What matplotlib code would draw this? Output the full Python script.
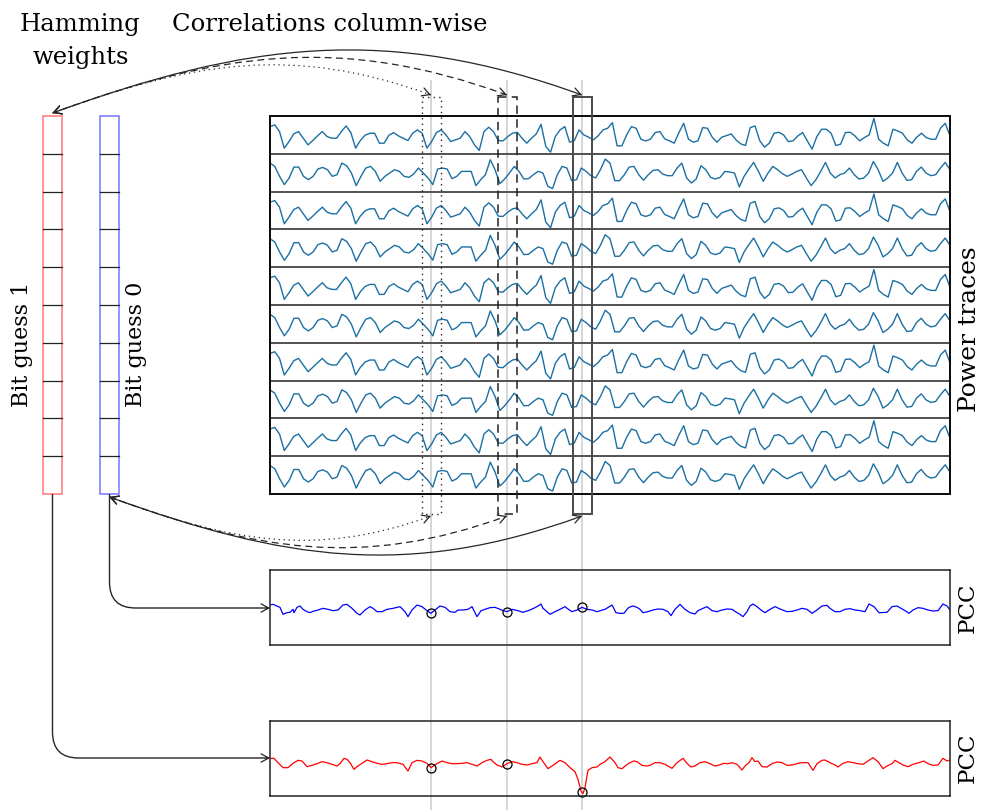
import numpy as np
import matplotlib.pyplot as plt
from matplotlib.patches import Rectangle, PathPatch
from matplotlib.path import Path

# ---------------- data ----------------
n_traces = 10

# power traces (arbitrary units), two recorded shapes that alternate row by row
trace_a = [80, 85, 65, 15, 35, 58, 65, 45, 25, 38, 52, 65, 50, 45, 45, 65, 82, 62, 15, 38,
           54, 60, 60, 30, 30, 54, 62, 52, 45, 38, 60, 70, 60, 15, 35, 62, 70, 55, 35, 40,
           45, 65, 50, 25, 8, 65, 78, 65, 38, 37, 50, 60, 63, 45, 30, 45, 58, 87, 20, 3,
           50, 70, 80, 33, 38, 70, 55, 48, 40, 52, 70,
           75, 92, 22, 22, 55, 80, 75, 42, 37, 42, 62, 65, 43, 37, 30, 62, 90, 42, 33, 37,
           77, 75, 48, 33, 48, 53, 58, 40, 28, 23, 77, 82, 37, 18, 30, 60, 63, 55, 35, 37,
           52, 62, 37, 12, 50, 72, 72, 60, 23, 27, 62, 63, 52, 37, 47, 55, 105, 42, 30, 22,
           72, 67, 60, 40, 30, 48, 60, 47, 42, 42, 75, 90, 52]
trace_b = [84, 74, 44, 19, 39, 72, 72, 44, 34, 44, 66, 71, 64, 44, 49, 84, 76, 54, 16, 44,
           69, 74, 59, 29, 44, 54, 64, 59, 44, 41, 51, 69, 54, 39, 19, 66, 69, 66, 37, 44,
           59, 59, 59, 16, 34, 49, 94, 64, 22, 36, 54, 74, 59, 36, 37, 49, 59, 54, 14, 7,
           49, 74, 69, 31, 34, 69, 59, 46, 39, 64, 96,
           84, 31, 31, 49, 72, 74, 49, 32, 49, 62, 64, 51, 46, 46, 69, 84, 39, 24, 36, 76,
           64, 41, 36, 41, 59, 57, 54, 12, 44, 66, 86, 59, 29, 54, 74, 64, 52, 44, 51, 59,
           64, 39, 16, 34, 59, 86, 54, 39, 49, 54, 69, 49, 36, 39, 54, 89, 64, 29, 39, 54,
           86, 54, 32, 34, 59, 72, 54, 46, 49, 69, 86, 64]

# PCC for bit guess 0 (sample index, correlation in units of 0.01)
pcc0_t = [0, 3, 7, 10, 13, 17, 20, 23, 24, 27, 30, 33, 37, 40, 43, 48, 53, 58, 63, 68,
          73, 77, 82, 87, 90, 95, 100, 103, 107, 112, 117, 123, 130, 135, 138, 142, 147, 152, 157, 161,
          165, 170, 175, 180, 185, 188, 193, 198, 202, 207, 211, 215, 220, 225, 230, 233, 237, 242, 248, 253,
          260, 265, 268, 271, 273, 275, 280, 285, 290, 295, 298, 302, 307, 312, 317, 322, 327,
          335, 342, 346, 350, 354, 357, 359, 363, 367, 370, 373, 378, 383, 388, 393, 398, 401, 405, 410, 415,
          420, 425, 428, 433, 437, 442, 447, 452, 457, 462, 467, 470, 473, 477, 480, 483, 487, 491, 495, 500,
          505, 510, 517, 522, 527, 532, 537, 542, 547, 552, 557, 560, 565, 570, 575, 580, 585, 590, 595, 599,
          604, 609, 617, 622, 627, 631, 635, 639, 643, 648, 653, 658, 663, 668, 673, 677, 680]
pcc0_c = [7, 9, 4, 0, -21, -16, -15, -6, -16, 0, 4, -6, -13, -16, -12, -8, -3, -6, -10, -8,
          7, 9, -3, -18, -23, -8, 2, -3, -13, -13, -6, -3, 2, -13, -28, -8, 7, 2, -10, -18,
          -8, 4, 0, -13, -15, -8, -8, -6, 2, -28, -10, -6, -1, 0, -6, -10, -13, -6, -10, -15,
          -8, -1, 4, 10, -3, -8, -21, -13, -6, 2, -5, -13, -8, 0, -6, -8, -13,
          -6, 7, -16, -18, -18, -6, 0, 4, 0, -6, -16, -13, -8, -5, -6, -13, -25, -6, 9, -6,
          -16, -20, -10, -3, 2, -10, -13, -8, -5, -6, -16, -21, -28, -13, 4, 10, 2, -8, -16, -6,
          2, -5, -13, -12, -8, -3, -6, -18, -8, 4, 6, -3, -13, -13, -6, -4, -8, -10, -13, 10,
          2, -16, -15, 2, 4, -3, -10, -18, -8, -1, -3, -8, -11, -10, 10, 4, -8]

# PCC for bit guess 1
pcc1_t = [0, 4, 8, 13, 18, 23, 28, 32, 37, 42, 47, 52, 57, 62, 67, 70, 74, 77, 80, 84,
          87, 92, 97, 102, 107, 112, 117, 122, 127, 133, 138, 142, 147, 152, 157, 161, 167, 172, 177, 182,
          187, 192, 197, 202, 207, 212, 217, 221, 223, 227, 232, 237, 242, 247, 252, 257, 262, 267, 270, 273,
          278, 283, 290, 295, 300, 305, 308, 311, 313, 315, 318, 322, 327,
          330, 335, 340, 345, 348, 352, 356, 360, 364, 367, 372, 377, 380, 385, 390, 395, 398, 402, 407, 413,
          417, 421, 425, 430, 435, 440, 445, 449, 454, 458, 462, 467, 472, 475, 479, 482, 485, 488, 492, 497,
          502, 507, 512, 517, 522, 527, 532, 538, 543, 547, 552, 555, 560, 565, 568, 573, 578, 583, 588, 593,
          598, 603, 608, 613, 617, 622, 625, 629, 633, 638, 643, 649, 654, 658, 663, 668, 673, 677, 679]
pcc1_c = [0, 0, -13, -28, -28, -15, -6, -8, -25, -21, -16, -10, -13, -18, -23, -16, 0, -3, -13, -33,
          -25, -15, -5, -10, -15, -18, -16, -13, -13, -18, -38, -13, -6, -8, -15, -28, -16, -8, -13, -16,
          -16, -15, -13, -18, -23, -13, -6, -3, -10, -20, -26, -16, -10, -13, -18, -20, -16, -13, 4, -10,
          -31, -21, -6, -13, -28, -40, -63, -98, -106, -88, -36, -28, -26,
          -18, -10, 4, -13, -28, -31, -21, -13, -8, -10, -21, -23, -21, -13, -13, -18, -23, -30, -13, 0,
          -15, -26, -23, -13, -10, -16, -23, -20, -15, -16, -13, -18, -35, -23, -13, 2, -10, -8, -25, -26,
          -16, -11, -13, -21, -20, -16, -13, -13, -36, -16, -6, -5, -13, -20, -26, -15, -10, -13, -16, -18,
          -8, 2, -10, -31, -23, -16, -6, -13, -20, -25, -18, -13, -8, -16, -21, -20, 0, -8, -6]

# sample columns that are correlated
col_t = [161, 237, 312]
n_samples = 680

# ---------------- layout (pixels) ----------------
W, H = 985, 810
fig = plt.figure(figsize=(W / 100, H / 100), dpi=100)
serif = 'DejaVu Serif'
fs_top = 17.5
fs = 16
ink = '#262626'
trace_color = '#1b6fa2'


def px_axes(x0, y0, x1, y1):
    a = fig.add_axes([x0 / W, 1 - y1 / H, (x1 - x0) / W, (y1 - y0) / H])
    a.patch.set_alpha(0)
    return a


bg = px_axes(0, 0, W, H)
bg.set_xlim(0, W)
bg.set_ylim(H, 0)
bg.axis('off')

# power traces, one axes per row
L, R, T, B = 270, 950, 116, 494
row_h = (B - T) / n_traces
for i in range(n_traces):
    rax = px_axes(L, T + i * row_h, R, T + (i + 1) * row_h)
    tr = trace_a if i % 2 == 0 else trace_b
    rax.plot(np.linspace(0, n_samples, len(tr)), tr, color=trace_color, lw=1.0)
    rax.set_xlim(0, n_samples)
    rax.set_ylim(-2, 112)
    rax.set_xticks([])
    rax.set_yticks([])
    for s in rax.spines.values():
        s.set_color('#555555')
        s.set_linewidth(1.4)

# PCC plots
pcc_axes = []
for (y0, y1), t, c, colr in [((570, 645), pcc0_t, pcc0_c, '#0000ff'),
                              ((721, 796), pcc1_t, pcc1_c, '#ff0000')]:
    pax = px_axes(L, y0, R, y1)
    cc = np.array(c) / 100
    pax.plot(t, cc, color=colr, lw=0.9)
    pax.plot(col_t, np.interp(col_t, t, cc), 'o', mfc='none', mec='black',
             ms=6.5, mew=0.9, clip_on=False)
    pax.set_xlim(0, n_samples)
    pax.set_ylim(-1.13, 1.12)
    pax.set_xticks([])
    pax.set_yticks([])
    for s in pax.spines.values():
        s.set_color('#222222')
        s.set_linewidth(1.1)
    pcc_axes.append(pax)

ax = px_axes(0, 0, W, H)
ax.set_xlim(0, W)
ax.set_ylim(H, 0)
ax.axis('off')

# column positions in pixel space, through the PCC axes scale
to_px = ax.transData.inverted()
col_x = [to_px.transform(pcc_axes[0].transData.transform((t, 0)))[0] for t in col_t]

bg.vlines(col_x, 80, H, color='#cccccc', lw=1.1)

# outer frame of the power traces
ax.add_patch(Rectangle((L, T), R - L, B - T, fill=False, ec='black', lw=1.2))

# bit guess vectors
for x0, ec in [(43, '#ff8080'), (100, '#8080ff')]:
    for k in range(1, n_traces):
        ax.plot([x0, x0 + 19], [T + k * row_h] * 2, color='#222222', lw=0.9)
    ax.add_patch(Rectangle((x0, T), 19, B - T, fill=False, ec=ec, lw=1.2))

# column boxes
styles = [(0, (1, 3)), (0, (5.5, 3.5)), 'solid']
box_cols = ['#222222', '#222222', '#4a4a4a']
box_lw = [1.0, 1.1, 1.4]
for x, ls, ec, lw in zip(col_x, styles, box_cols, box_lw):
    ax.add_patch(Rectangle((x - 9.5, 97), 19, 417, fill=False, ec=ec, ls=ls, lw=lw))


def head(tip, frm):
    ax.annotate('', xy=tip, xytext=frm,
                arrowprops=dict(arrowstyle='->,head_length=0.55,head_width=0.3',
                                lw=0.9, color=ink, shrinkA=0, shrinkB=0))


def bezier_arrow(p0, p1, p2, p3, ls):
    path = Path([p0, p1, p2, p3], [Path.MOVETO, Path.CURVE4, Path.CURVE4, Path.CURVE4])
    ax.add_patch(PathPatch(path, fill=False, ec=ink, lw=0.9, ls=ls))
    d0 = np.subtract(p0, p1)
    d3 = np.subtract(p3, p2)
    head(p0, np.subtract(p0, d0 / np.hypot(*d0) * 3))
    head(p3, np.subtract(p3, d3 / np.hypot(*d3) * 3))


ang = np.radians(20)
top_end = (52.5, 113)
bot_start = (109.5, 497)
for x, ls in zip(col_x, styles):
    # top arcs towards the "bit guess 1" vector
    d = 0.3915 * np.hypot(x - top_end[0], 95 - top_end[1])
    bezier_arrow((x, 95), (x - d * np.cos(ang), 95 - d * np.sin(ang)),
                 (top_end[0] + d * np.cos(ang), top_end[1] - d * np.sin(ang)), top_end, ls)
    # bottom arcs towards the "bit guess 0" vector
    d = 0.3915 * np.hypot(x - bot_start[0], 516 - bot_start[1])
    bezier_arrow(bot_start, (bot_start[0] + d * np.cos(ang), bot_start[1] + d * np.sin(ang)),
                 (x - d * np.cos(ang), 516 + d * np.sin(ang)), (x, 516), ls)

# L-shaped arrows to the PCC plots
for x0, yh in [(109.5, 608), (52.5, 758)]:
    r = 26
    path = Path([(x0, B), (x0, yh - r), (x0, yh), (x0 + r, yh), (L - 1, yh)],
                [Path.MOVETO, Path.LINETO, Path.CURVE3, Path.CURVE3, Path.LINETO])
    ax.add_patch(PathPatch(path, fill=False, ec=ink, lw=1.0))
    head((L, yh), (L - 4, yh))

# texts
ax.text(80, 31, 'Hamming', ha='center', va='baseline', fontsize=fs_top, family=serif)
ax.text(81, 64, 'weights', ha='center', va='baseline', fontsize=fs_top, family=serif)
ax.text(172, 31, 'Correlations column-wise', ha='left', va='baseline', fontsize=fs_top, family=serif)
ax.text(22, 344, 'Bit guess 1', rotation=90, ha='center', va='center', fontsize=fs, family=serif)
ax.text(136, 344, 'Bit guess 0', rotation=90, ha='center', va='center', fontsize=fs, family=serif)
ax.text(969, 329, 'Power traces', rotation=90, ha='center', va='center', fontsize=18, family=serif)
ax.text(968, 608, 'PCC', rotation=90, ha='center', va='center', fontsize=16.5, family=serif)
ax.text(968, 758, 'PCC', rotation=90, ha='center', va='center', fontsize=16.5, family=serif)

fig.savefig('out.png', dpi=100)
